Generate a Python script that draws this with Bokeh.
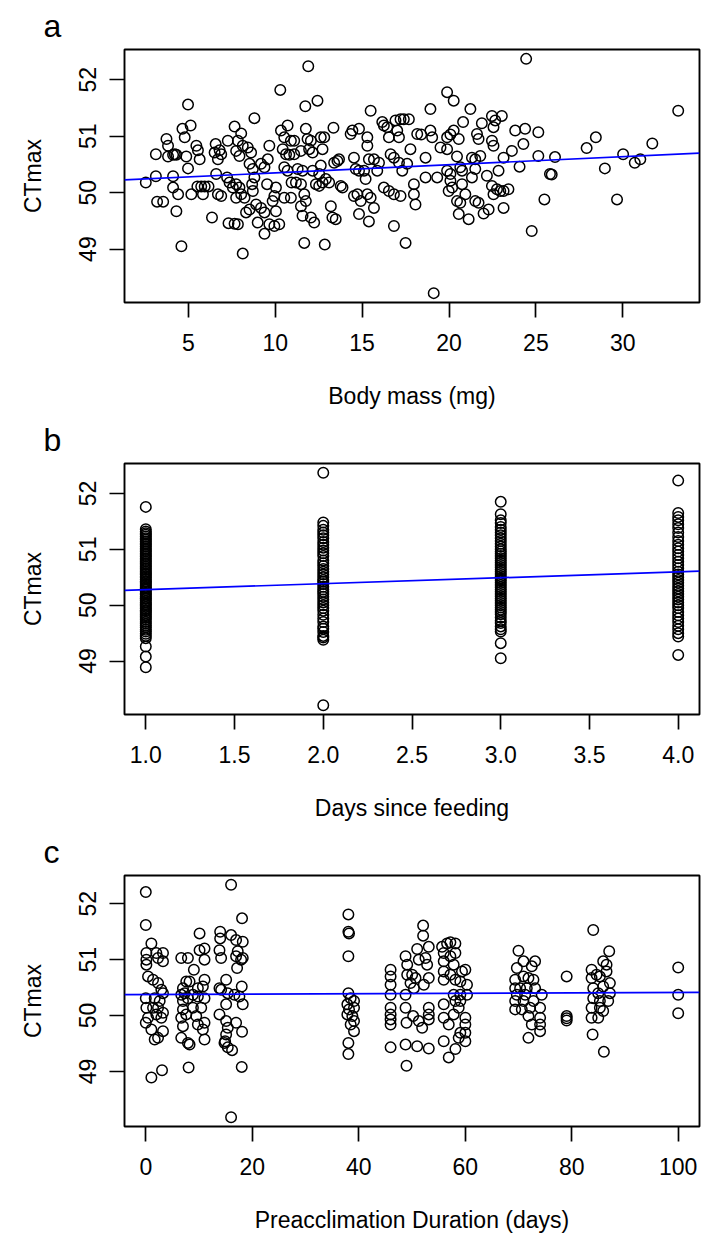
import numpy as np
from bokeh.plotting import figure
from bokeh.layouts import column
from bokeh.models import FixedTicker, PrintfTickFormatter, Range1d
from bokeh.embed import file_html
from bokeh.resources import INLINE

FONT = "Liberation Sans"

# ---------------- panel a: body mass ----------------
mass_mg = [
    2.55, 3.13, 3.13, 3.20, 3.55, 3.74, 3.83, 3.83, 4.12, 4.22,
    4.31, 4.12, 4.12, 4.31, 4.41, 4.60, 4.66, 4.79, 4.98, 5.13,
    4.88, 4.98, 5.17, 5.46, 5.55, 5.65, 5.52, 5.74, 5.94, 6.16,
    5.84, 6.36, 6.57, 6.51, 6.70, 6.80, 6.70, 6.89, 6.60, 6.89,
    7.27, 7.23, 7.37, 7.31, 7.85, 7.66, 7.66, 8.04, 7.85, 7.75,
    7.94, 8.13, 7.56, 7.75, 7.94, 8.04, 8.23, 7.75, 8.13, 8.32,
    8.52, 8.42, 8.61, 8.52, 8.71, 8.80, 8.67, 8.71, 8.80, 8.90,
    9.18, 9.38, 8.99, 9.38, 9.66, 9.95, 10.23, 9.18, 9.38, 9.57,
    9.53, 9.66, 9.85, 9.95, 10.04, 10.04, 10.29, 10.33, 10.52, 10.71,
    10.90, 11.09, 10.43, 10.62, 10.81, 10.52, 10.71, 10.52, 10.90, 10.94,
    11.19, 11.48, 11.09, 11.48, 11.29, 11.57, 11.48, 11.57, 11.67, 11.76,
    11.67, 11.73, 11.76, 11.90, 11.95, 12.15, 11.86, 12.05, 12.05, 12.24,
    12.15, 12.34, 12.53, 12.43, 12.62, 12.72, 12.82, 12.53, 12.62, 12.72,
    12.85, 12.91, 13.10, 13.20, 13.29, 13.48, 13.35, 13.39, 13.58, 13.67,
    13.77, 13.87, 14.34, 14.44, 14.82, 14.53, 14.63, 14.82, 14.53, 14.73,
    14.92, 14.82, 15.39, 15.30, 15.49, 15.30, 15.11, 15.20, 15.39, 15.68,
    15.97, 15.30, 15.49, 15.68, 15.87, 16.16, 16.25, 16.45, 16.54, 16.64,
    16.83, 16.25, 16.54, 16.83, 17.21, 16.83, 16.92, 17.02, 17.21, 17.40,
    17.69, 17.12, 17.12, 17.31, 17.59, 17.50, 17.78, 17.98, 17.98, 18.07,
    18.17, 18.40, 18.65, 18.65, 18.93, 18.93, 19.03, 19.12, 19.32, 19.51,
    19.89, 20.27, 19.89, 20.08, 20.27, 20.56, 19.89, 20.46, 19.89, 20.08,
    20.08, 20.18, 19.98, 20.65, 20.75, 20.75, 20.46, 20.65, 20.56, 20.81,
    21.23, 20.94, 21.13, 21.32, 21.51, 21.61, 21.70, 21.89, 21.80, 21.32,
    21.51, 21.51, 21.70, 21.99, 22.28, 22.18, 22.47, 22.66, 23.04, 22.56,
    22.47, 22.56, 22.47, 22.56, 22.76, 22.95, 23.14, 23.42, 22.85, 23.14,
    23.14, 23.62, 23.81, 24.38, 24.28, 24.06, 24.44, 24.76, 25.14, 25.14,
    25.49, 25.81, 25.91, 26.10, 27.92, 28.45, 28.97, 29.67, 30.02, 30.69,
    31.01, 31.70, 33.19,
]
ctmax_a = [
    50.18, 50.68, 50.29, 49.84, 49.84, 50.95, 50.83, 50.64, 50.67, 50.68,
    50.67, 50.29, 50.09, 49.67, 49.97, 49.05, 51.13, 50.98, 51.56, 51.19,
    50.64, 50.43, 49.97, 50.83, 50.75, 50.59, 50.11, 50.11, 50.11, 50.11,
    49.97, 49.56, 50.86, 50.71, 50.59, 50.75, 49.97, 49.94, 50.33, 50.68,
    50.92, 50.27, 50.18, 49.46, 49.44, 49.45, 51.17, 51.05, 50.92, 50.74,
    50.65, 50.83, 50.09, 50.15, 50.09, 49.97, 49.91, 49.91, 48.92, 49.65,
    49.70, 50.80, 50.71, 50.51, 50.42, 51.32, 50.15, 50.03, 50.27, 49.79,
    49.73, 49.65, 49.47, 49.27, 49.44, 49.41, 49.44, 50.51, 50.45, 50.59,
    50.15, 50.83, 49.85, 49.94, 50.09, 49.67, 51.82, 51.10, 50.98, 51.19,
    50.92, 50.92, 50.77, 50.68, 50.67, 50.45, 50.39, 49.91, 49.91, 50.18,
    50.18, 50.15, 50.68, 50.74, 50.42, 50.39, 49.76, 49.59, 49.97, 49.85,
    49.11, 51.53, 51.13, 52.24, 50.77, 50.71, 50.95, 50.92, 49.56, 49.47,
    50.39, 50.15, 50.12, 51.63, 50.98, 50.77, 50.98, 50.33, 50.48, 50.18,
    49.08, 50.24, 50.18, 49.76, 49.56, 49.53, 51.15, 50.53, 50.56, 50.59,
    50.12, 50.09, 51.04, 51.10, 51.13, 50.62, 50.42, 50.39, 49.94, 49.97,
    49.85, 49.62, 49.49, 50.98, 51.45, 50.83, 50.39, 50.24, 50.59, 50.59,
    50.53, 49.97, 49.91, 49.73, 50.39, 51.25, 51.19, 51.16, 50.98, 50.68,
    50.62, 50.09, 50.03, 49.97, 49.94, 49.41, 51.28, 51.10, 51.30, 51.30,
    51.30, 50.98, 50.53, 50.39, 50.51, 49.11, 50.77, 50.15, 49.97, 49.79,
    51.04, 51.03, 50.62, 50.27, 51.48, 51.10, 50.98, 48.22, 50.27, 50.80,
    51.78, 51.63, 50.98, 51.03, 51.10, 50.95, 50.77, 50.64, 50.39, 50.33,
    50.21, 50.09, 50.03, 50.45, 50.15, 50.39, 49.85, 49.82, 49.62, 51.25,
    51.48, 49.97, 49.53, 50.62, 50.59, 51.04, 50.95, 51.23, 50.65, 50.27,
    50.42, 49.85, 49.82, 49.63, 49.70, 50.30, 51.36, 51.28, 51.36, 51.16,
    50.92, 50.83, 50.12, 49.97, 50.06, 50.03, 50.03, 50.06, 50.39, 50.62,
    49.73, 50.74, 51.10, 51.13, 50.86, 50.46, 52.37, 49.32, 51.07, 50.65,
    49.88, 50.33, 50.32, 50.63, 50.79, 50.98, 50.43, 49.88, 50.68, 50.53,
    50.59, 50.87, 51.45,
]
fit_a = (50.207, 0.01436)   # intercept, slope
ticks_a = [5, 10, 15, 20, 25, 30]

# ---------------- panel b: days since feeding ----------------
days = [1, 2, 3, 4]
ct_day1 = [48.89, 49.08, 49.26, 49.41, 49.45, 49.49, 49.53, 49.56, 49.60, 49.63,
           49.67, 49.70, 49.74, 49.77, 49.80, 49.83, 49.86, 49.89, 49.91, 49.94,
           49.97, 50.00, 50.02, 50.05, 50.08, 50.11, 50.13, 50.16, 50.19, 50.21,
           50.24, 50.27, 50.30, 50.32, 50.35, 50.38, 50.41, 50.43, 50.46, 50.49,
           50.52, 50.55, 50.57, 50.60, 50.63, 50.66, 50.69, 50.72, 50.75, 50.78,
           50.81, 50.84, 50.87, 50.90, 50.93, 50.96, 50.99, 51.02, 51.05, 51.08,
           51.11, 51.14, 51.17, 51.20, 51.23, 51.26, 51.29, 51.32, 51.36, 51.76]
ct_day2 = [52.37, 51.48, 51.42, 51.35, 51.30, 51.25, 51.20, 51.13, 51.08, 51.03,
           50.98, 50.93, 50.88, 50.80, 50.75, 50.70, 50.65, 50.60, 50.55, 50.50,
           50.45, 50.42, 50.38, 50.33, 50.28, 50.24, 50.20, 50.15, 50.10, 50.05,
           50.00, 49.95, 49.90, 49.83, 49.76, 49.70, 49.62, 49.58, 49.52, 49.45,
           49.42, 49.38, 48.21]
ct_day3 = [51.85, 51.63, 51.52, 51.47, 51.40, 51.35, 51.30, 51.25, 51.20, 51.15,
           51.10, 51.05, 51.00, 50.96, 50.92, 50.88, 50.84, 50.80, 50.76, 50.72,
           50.68, 50.64, 50.60, 50.56, 50.52, 50.48, 50.44, 50.40, 50.36, 50.32,
           50.28, 50.24, 50.20, 50.16, 50.12, 50.08, 50.04, 50.00, 49.96, 49.92,
           49.88, 49.84, 49.78, 49.72, 49.68, 49.62, 49.57, 49.53, 49.32, 49.05]
ct_day4 = [52.23, 51.65, 51.58, 51.52, 51.45, 51.38, 51.30, 51.22, 51.15, 51.08,
           51.02, 50.96, 50.90, 50.84, 50.78, 50.72, 50.66, 50.60, 50.55, 50.50,
           50.45, 50.40, 50.35, 50.30, 50.25, 50.20, 50.15, 50.10, 50.05, 50.00,
           49.95, 49.88, 49.82, 49.76, 49.70, 49.63, 49.57, 49.50, 49.44, 49.11]
fit_b = (50.173, 0.106)
ticks_b = [1.0, 1.5, 2.0, 2.5, 3.0, 3.5, 4.0]

# ---------------- panel c: preacclimation duration ----------------
preacc_days = [
    0.0, 0.0, 1.05, 0.11, 0.11, 0.11, 0.42, 1.36, 1.98, 3.23,
    3.23, 2.30, 0.0, 0.11, 0.0, 0.42, 1.67, 2.61, 3.23, 1.36,
    2.30, 3.23, 2.92, 1.98, 1.05, 1.67, 2.30, 3.23, 1.05, 3.05,
    2.30, 2.92,
    6.66, 7.91, 10.10, 10.10, 11.03, 11.03, 9.03, 6.98, 6.66, 7.60,
    8.22, 9.78, 11.03, 10.72, 6.98, 7.91, 8.85, 9.78, 11.03, 6.98,
    7.60, 6.66, 8.85, 10.41, 9.47, 6.98, 9.78, 11.03, 10.72, 6.66,
    7.91, 8.22, 11.03, 8.04, 7.29,
    16.02, 18.08, 13.97, 13.97, 16.02, 16.96, 18.21, 13.84, 14.15, 17.27,
    16.96, 17.90, 17.15, 18.21, 15.09, 13.84, 14.15, 15.40, 16.65, 17.58,
    18.02, 15.09, 18.21, 13.84, 15.09, 15.40, 16.96, 15.09, 14.78, 15.40,
    16.21, 18.08, 14.90, 18.02, 16.02,
    38.05, 38.05, 38.17, 38.05, 38.05, 38.48, 37.86, 39.11, 38.17, 39.11,
    37.86, 38.80, 39.11, 38.48, 39.11, 38.05, 38.05,
    45.98, 45.98, 45.98, 45.98, 45.98, 45.98, 45.98, 45.98, 45.98,
    52.09, 52.09, 50.97, 53.15, 48.79, 49.10, 51.28, 52.53, 52.84, 50.03,
    49.10, 50.66, 53.15, 49.72, 48.79, 50.35, 52.22, 48.79, 50.22, 48.97,
    51.28, 51.91, 53.15, 53.15, 53.15, 48.79, 50.97, 53.15, 48.97,
    55.65, 56.59, 57.21, 58.15, 55.96, 57.21, 58.15, 55.96, 57.83, 55.96,
    57.21, 59.39, 60.02, 55.96, 58.15, 59.08, 60.33, 57.83, 59.08, 60.33,
    58.15, 59.08, 55.96, 58.77, 55.96, 57.83, 60.02, 60.02, 56.90, 59.08,
    60.02, 60.02, 58.77, 55.96, 58.15, 56.90,
    70.00, 70.94, 73.12, 69.69, 72.50, 69.38, 70.94, 71.87, 72.81, 69.38,
    70.31, 71.56, 73.12, 74.37, 69.69, 71.25, 69.38, 70.94, 72.81, 69.38,
    70.62, 72.19, 74.06, 71.87, 74.06, 72.50, 74.06, 74.06, 71.87,
    79.05, 79.05, 79.05, 79.05,
    84.04, 87.04, 85.91, 86.54, 83.73, 84.67, 83.73, 85.29, 86.54, 84.04,
    85.91, 87.17, 84.98, 87.17, 84.04, 85.29, 86.85, 83.73, 85.29, 85.91,
    83.73, 84.98, 83.92, 86.04,
    100.0, 100.0, 100.0,
]
ctmax_c = [
    52.21, 51.62, 51.29, 51.12, 51.00, 50.91, 50.70, 50.64, 51.12, 51.12,
    50.97, 51.03, 50.31, 50.14, 49.87, 49.96, 50.31, 50.26, 50.40, 50.14,
    50.14, 50.05, 49.96, 50.02, 49.75, 49.57, 49.60, 49.72, 48.89, 49.02,
    50.58, 50.46,
    51.03, 51.03, 51.47, 51.17, 51.20, 51.00, 50.82, 50.49, 50.37, 50.61,
    50.61, 50.49, 50.64, 50.52, 50.26, 50.31, 50.37, 50.34, 50.31, 50.11,
    50.02, 49.96, 50.14, 50.14, 49.99, 49.81, 49.84, 49.87, 49.75, 49.60,
    49.51, 49.48, 49.57, 49.07, 50.40,
    52.34, 51.74, 51.50, 51.38, 51.44, 51.35, 51.32, 51.17, 51.03, 51.15,
    51.06, 51.00, 50.85, 51.03, 50.64, 50.49, 50.46, 50.40, 50.37, 50.34,
    50.52, 50.20, 50.20, 50.02, 49.90, 49.78, 49.87, 49.66, 49.51, 49.43,
    49.38, 49.71, 49.54, 49.08, 48.18,
    51.81, 51.50, 51.47, 51.06, 50.40, 50.31, 50.20, 50.26, 50.11, 50.14,
    50.02, 49.99, 49.90, 49.84, 49.72, 49.51, 49.31,
    50.82, 50.70, 50.55, 50.37, 50.14, 50.02, 49.93, 49.84, 49.43,
    51.61, 51.43, 51.19, 51.23, 51.06, 50.91, 51.00, 51.03, 50.91, 50.73,
    50.73, 50.67, 50.67, 50.58, 50.37, 50.49, 50.55, 50.14, 49.99, 49.87,
    49.90, 49.78, 50.14, 50.02, 49.93, 49.48, 49.45, 49.41, 49.10,
    51.23, 51.29, 51.31, 51.29, 51.12, 51.06, 51.12, 50.97, 50.91, 50.79,
    50.73, 50.79, 50.82, 50.64, 50.64, 50.61, 50.55, 50.37, 50.37, 50.37,
    50.26, 50.26, 50.20, 50.14, 49.96, 50.02, 49.96, 49.84, 49.84, 49.69,
    49.69, 49.54, 49.60, 49.54, 49.40, 49.25,
    51.16, 50.97, 50.97, 50.85, 50.88, 50.64, 50.70, 50.67, 50.64, 50.49,
    50.49, 50.49, 50.49, 50.37, 50.37, 50.37, 50.26, 50.26, 50.26, 50.11,
    50.11, 50.14, 50.14, 49.99, 49.96, 49.84, 49.84, 49.72, 49.60,
    50.70, 49.99, 49.95, 49.91,
    51.53, 51.15, 50.97, 50.91, 50.82, 50.73, 50.67, 50.70, 50.79, 50.49,
    50.52, 50.58, 50.40, 50.40, 50.31, 50.26, 50.26, 50.14, 50.14, 50.08,
    49.96, 49.96, 49.66, 49.35,
    50.86, 50.37, 50.04,
]
fit_c = (50.3755, 0.00038)
ticks_c = [0, 20, 40, 60, 80, 100]

y_ticks = [49, 50, 51, 52]

FRAME_H = 253


def panel(letter, xs, ys, xlabel, xticks, fit, height, top, bottom, fmt=None):
    x0, x1 = min(xs), max(xs)
    ex = 0.04 * (x1 - x0)
    y0, y1 = min(ys), max(ys)
    ey = 0.04 * (y1 - y0)
    p = figure(width=701, height=height, output_backend="svg", toolbar_location=None,
               x_range=Range1d(x0 - ex, x1 + ex), y_range=Range1d(y0 - ey, y1 + ey),
               min_border_left=124, min_border_right=2, min_border_top=top,
               min_border_bottom=bottom, title=letter)
    p.background_fill_color = "white"
    p.border_fill_color = "white"
    p.outline_line_color = "black"
    p.outline_line_width = 1.9
    p.outline_line_alpha = 1.0
    p.xgrid.visible = False
    p.ygrid.visible = False

    p.title.text_font = FONT
    p.title.text_font_size = "32px"
    p.title.text_font_style = "normal"
    p.title.text_color = "black"
    p.title.align = "left"
    p.title.offset = -81
    p.title.standoff = 11

    p.xaxis.ticker = FixedTicker(ticks=xticks)
    p.yaxis.ticker = FixedTicker(ticks=y_ticks)
    if fmt:
        p.xaxis.formatter = PrintfTickFormatter(format=fmt)
    p.xaxis.axis_label = xlabel
    p.yaxis.axis_label = "CTmax"
    for ax in (p.xaxis[0], p.yaxis[0]):
        ax.major_tick_out = 15
        ax.major_tick_in = 0
        ax.major_tick_line_width = 1.7
        ax.major_tick_line_color = "black"
        ax.minor_tick_line_color = None
        ax.axis_line_color = None
        ax.major_label_text_font = FONT
        ax.major_label_text_font_size = "23px"
        ax.major_label_text_color = "black"
        ax.axis_label_text_font = FONT
        ax.axis_label_text_font_size = "23px"
        ax.axis_label_text_font_style = "normal"
        ax.axis_label_text_color = "black"
    p.xaxis.major_label_standoff = 16
    p.xaxis.axis_label_standoff = 29
    p.yaxis.major_label_orientation = "vertical"
    p.yaxis.major_label_standoff = 13
    p.yaxis.axis_label_standoff = 31

    p.scatter(xs, ys, marker="circle", size=10.5, fill_color=None,
              line_color="black", line_width=1.5)
    lx = [x0 - ex, x1 + ex]
    p.line(lx, [fit[0] + fit[1] * v for v in lx], line_color="blue", line_width=1.7)
    return p


days_b = []
ctmax_b = []
for d, vals in zip(days, [ct_day1, ct_day2, ct_day3, ct_day4]):
    days_b += [d] * len(vals)
    ctmax_b += vals

H_A = 49 + FRAME_H + 112
H_B = 47 + FRAME_H + 112
H_C = 1245 - H_A - H_B

pa = panel("a", mass_mg, ctmax_a, "Body mass (mg)", ticks_a, fit_a,
           height=H_A, top=49, bottom=112)
pb = panel("b", days_b, ctmax_b, "Days since feeding", ticks_b, fit_b,
           height=H_B, top=47, bottom=112, fmt="%.1f")
pc = panel("c", preacc_days, ctmax_c, "Preacclimation Duration (days)", ticks_c, fit_c,
           height=H_C, top=47, bottom=H_C - 47 - FRAME_H)

layout = column(pa, pb, pc, spacing=0)
open("out.html", "w").write(file_html(layout, INLINE))
